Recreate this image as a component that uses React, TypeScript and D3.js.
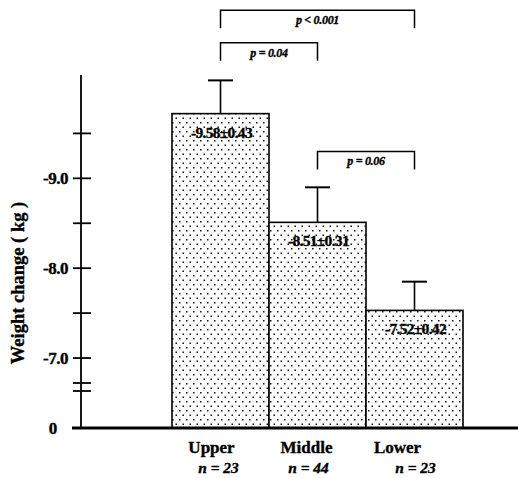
import React from "react";
import * as d3 from "d3";

const categories = ["Upper", "Middle", "Lower"];
const nLabels = ["n = 23", "n = 44", "n = 23"];
const barValues = [-9.72, -8.51, -7.53];
const errValues = [0.37, 0.39, 0.32];
const barLabels = ["-9.58±0.43", "-8.51±0.31", "-7.52±0.42"];
const yTicks = [-7.0, -8.0, -9.0];
const yMinorTicks = [-7.5, -8.5, -9.5];
const comparisons = [
  { from: 0, to: 2, label: "p < 0.001", level: -10.87 },
  { from: 0, to: 1, label: "p = 0.04", level: -10.51 },
  { from: 1, to: 2, label: "p = 0.06", level: -9.3 },
];

const W = 518;
const H = 478;

export default function App() {
  // broken axis: 0 at baseline, then -6.7 .. -10.15 continuous
  const y = d3.scaleLinear().domain([0, -6.7, -10.15]).range([428, 385, 75]);
  const yExt = d3.scaleLinear().domain([-6.7, -10.15]).range([385, 75]);
  const x = d3.scaleBand<string>().domain(categories).range([172, 463]).padding(0);
  const bw = x.bandwidth();
  const axisX = 81;
  const labelDx = [-9, -11, -17];
  const nDx = [-2, -9, 1];
  const serif = "'Liberation Serif', 'DejaVu Serif', serif";
  const thick = { stroke: "#000", strokeWidth: 0.35 };

  return (
    <svg width={W} height={H} style={{ position: "absolute", left: 0, top: 0, background: "#fff" }}>
      <defs>
        <pattern id="dots" width={7} height={9} patternUnits="userSpaceOnUse">
          <rect width={7} height={9} fill="#fff" />
          <rect x={0.5} y={0.5} width={1.5} height={1.5} fill="#111" />
          <rect x={4} y={5} width={1.5} height={1.5} fill="#111" />
        </pattern>
      </defs>

      {/* bars */}
      {categories.map((c, i) => (
        <rect
          key={c}
          x={x(c)!}
          y={y(barValues[i])}
          width={bw}
          height={y(0) - y(barValues[i])}
          fill="url(#dots)"
          stroke="#000"
          strokeWidth={1.6}
        />
      ))}

      {/* error bars */}
      {categories.map((c, i) => {
        const cx = x(c)! + bw * 0.5;
        const top = y(barValues[i] - errValues[i]);
        return (
          <g key={"e" + c} stroke="#000" strokeWidth={1.6}>
            <line x1={cx} x2={cx} y1={y(barValues[i])} y2={top} />
            <line x1={cx - 12.5} x2={cx + 12.5} y1={top} y2={top} strokeWidth={2} />
          </g>
        );
      })}

      {/* bar labels */}
      {categories.map((c, i) => (
        <text
          key={"l" + c}
          x={x(c)! + bw * 0.5 + 1}
          y={y(barValues[i]) + 24}
          textAnchor="middle"
          fontFamily={serif}
          fontWeight="bold"
          fontSize={15.5}
          letterSpacing={-0.7}
          fill="#000"
          {...thick}
        >
          {barLabels[i]}
        </text>
      ))}

      {/* comparison brackets */}
      {comparisons.map((cmp, k) => {
        const x1 = x(categories[cmp.from])! + bw * 0.5;
        const x2 = x(categories[cmp.to])! + bw * 0.5;
        const yy = yExt(cmp.level);
        return (
          <g key={"c" + k}>
            <path
              d={`M${x1},${yy + 18} V${yy} H${x2} V${yy + 18}`}
              fill="none"
              stroke="#000"
              strokeWidth={1.5}
            />
            <text
              x={(x1 + x2) / 2}
              y={yy + 14}
              textAnchor="middle"
              fontFamily={serif}
              fontWeight="bold"
              fontStyle="italic"
              fontSize={12}
              letterSpacing={-0.3}
              fill="#000"
              {...thick}
            >
              {cmp.label}
            </text>
          </g>
        );
      })}

      {/* y axis */}
      <line x1={axisX} x2={axisX} y1={75} y2={428} stroke="#000" strokeWidth={1.8} />
      {yTicks.map((t) => (
        <g key={"t" + t}>
          <line x1={axisX - 8} x2={axisX + 10} y1={y(t)} y2={y(t)} stroke="#000" strokeWidth={1.8} />
          <text
            x={axisX - 13}
            y={y(t) + 6}
            textAnchor="end"
            fontFamily={serif}
            fontWeight="bold"
            fontSize={17}
            letterSpacing={-0.5}
            fill="#000"
            {...thick}
          >
            {t.toFixed(1)}
          </text>
        </g>
      ))}
      {yMinorTicks.map((t) => (
        <line key={"m" + t} x1={axisX - 8} x2={axisX + 10} y1={y(t)} y2={y(t)} stroke="#000" strokeWidth={1.8} />
      ))}
      {/* axis break marks */}
      <line x1={axisX - 8} x2={axisX + 10} y1={383} y2={383} stroke="#000" strokeWidth={1.8} />
      <line x1={axisX - 8} x2={axisX + 10} y1={391} y2={391} stroke="#000" strokeWidth={1.8} />
      <text x={axisX - 28} y={y(0) + 6} textAnchor="middle" fontFamily={serif} fontWeight="bold" fontSize={17} fill="#000" {...thick}>
        0
      </text>

      {/* x axis baseline */}
      <line x1={72} x2={518} y1={y(0)} y2={y(0)} stroke="#000" strokeWidth={3} />

      {/* category labels */}
      {categories.map((c, i) => (
        <g key={"x" + c}>
          <text
            x={x(c)! + bw * 0.5 + labelDx[i]}
            y={453}
            textAnchor="middle"
            fontFamily={serif}
            fontWeight="bold"
            fontSize={17}
            fill="#000"
            {...thick}
          >
            {c}
          </text>
          <text
            x={x(c)! + bw * 0.5 + nDx[i]}
            y={473}
            textAnchor="middle"
            fontFamily={serif}
            fontWeight="bold"
            fontStyle="italic"
            fontSize={15.5}
            fill="#000"
            {...thick}
          >
            {nLabels[i]}
          </text>
        </g>
      ))}

      {/* y title */}
      <text
        transform={`translate(24,283) rotate(-90)`}
        textAnchor="middle"
        fontFamily={serif}
        fontWeight="bold"
        fontSize={18.5}
        fill="#000"
        {...thick}
      >
        Weight change ( kg )
      </text>
    </svg>
  );
}
